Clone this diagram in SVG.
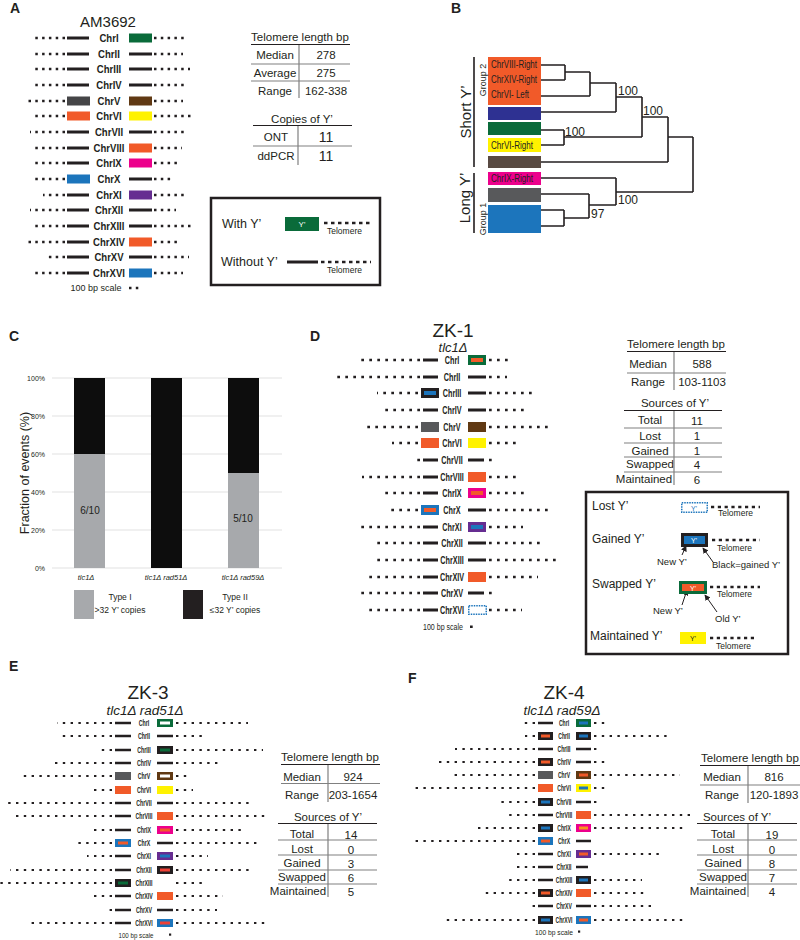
<svg xmlns="http://www.w3.org/2000/svg" width="800" height="940" viewBox="0 0 800 940">
<defs>
<style>
.t{font-family:"Liberation Sans",Arial,sans-serif;fill:#231f20}
.b{font-weight:bold}
.m{text-anchor:middle}
.i{font-style:italic}
.dA{fill:none;stroke:#231f20;stroke-width:2.5;stroke-dasharray:2.5 4.3}
.dD{fill:none;stroke:#231f20;stroke-width:2.5;stroke-dasharray:2.7 5.3}
.dE{fill:none;stroke:#231f20;stroke-width:2.2;stroke-dasharray:2.4 5.4}
.s3{fill:none;stroke:#231f20;stroke-width:3}
.s25{fill:none;stroke:#231f20;stroke-width:2.5}
.tl{fill:none;stroke:#231f20;stroke-width:1}
.tg{fill:none;stroke:#808080;stroke-width:1.2}
.tree{fill:none;stroke:#231f20;stroke-width:1.6}
.grid{stroke:#d9d9d9;stroke-width:0.8}
.frame{fill:none;stroke:#231f20;stroke-width:2.5}
.G{fill:#0a6b3a}.O{fill:#f15a29}.Y{fill:#fff200}.M{fill:#ec008c}.B{fill:#1c75bc}
.P{fill:#662d91}.N{fill:#603913}.K{fill:#58595b}.X{fill:#231f20}.R{fill:#ef4136}.W{fill:#ffffff}.L{fill:#f7941d}
</style>
<marker id="ah" viewBox="0 0 8 8" refX="7" refY="4" markerWidth="6" markerHeight="6" orient="auto" markerUnits="userSpaceOnUse">
<path d="M0,0 L8,4 L0,8 z" fill="#231f20"/>
</marker>
</defs>
<rect width="800" height="940" fill="#ffffff"/>

<!-- Panel A -->
<g id="panelA">
<text class="t b" x="10" y="13" font-size="14">A</text>
<text class="t m" x="108" y="27" font-size="15">AM3692</text>
<path class="dA" d="M65 38H32M65 54H32M65 69H32M65 85H32M65 101H28M65 116H33M65 132H30M65 148H31M65 163H35M65 179H33M65 195H43M65 210H30M65 226H35M65 242H28M65 257H47M65 273H35"/>
<path class="dA" d="M154 38H184M154 54H183M154 69H190M154 85H184M154 101H183M154 116H191M154 132H184M154 148H182M154 163H180M154 179H173M154 195H185M154 210H176M154 226H192M154 242H180M154 257H189M154 273H183"/>
<path class="s3" d="M67 38H89M67 54H89M67 69H89M67 85H89M67 132H89M67 148H89M67 163H89M67 195H89M67 210H89M67 226H89M67 242H89M67 257H89M67 273H89"/>
<path class="s3" d="M129 54H152M129 69H152M129 85H152M129 132H152M129 179H152M129 210H152M129 226H152M129 257H152"/>
<g>
<rect class="G" x="129" y="33.5" width="23" height="9"/>
<rect fill="#454547" x="67" y="96.5" width="23" height="9"/>
<rect class="N" x="129" y="96.5" width="23" height="9"/>
<rect class="O" x="67" y="111.5" width="23" height="9"/>
<rect class="Y" x="129" y="111.5" width="23" height="9"/>
<rect class="O" x="129" y="143.5" width="23" height="9"/>
<rect class="M" x="129" y="158.5" width="23" height="9"/>
<rect class="B" x="67" y="174.5" width="23" height="9"/>
<rect class="P" x="129" y="190.5" width="23" height="9"/>
<rect class="O" x="129" y="237.5" width="23" height="9"/>
<rect class="B" x="129" y="268.5" width="23" height="9"/>
</g>
<g class="t b m" font-size="11" transform="translate(109,0) scale(0.87,1)">
<text x="0" y="42">ChrI</text><text x="0" y="58">ChrII</text><text x="0" y="73">ChrIII</text><text x="0" y="89">ChrIV</text>
<text x="0" y="105">ChrV</text><text x="0" y="120">ChrVI</text><text x="0" y="136">ChrVII</text><text x="0" y="152">ChrVIII</text>
<text x="0" y="167">ChrIX</text><text x="0" y="183">ChrX</text><text x="0" y="199">ChrXI</text><text x="0" y="214">ChrXII</text>
<text x="0" y="230">ChrXIII</text><text x="0" y="246">ChrXIV</text><text x="0" y="261">ChrXV</text><text x="0" y="277">ChrXVI</text>
</g>
<text class="t m" x="96" y="291" font-size="9">100 bp scale</text>
<path class="dA" d="M129 288H140"/>
</g>

<!-- Panel A tables -->
<g id="tableA">
<g class="t m" font-size="11.5">
<text x="300" y="41">Telomere length bp</text>
<text x="275" y="59">Median</text><text x="326" y="59">278</text>
<text x="275" y="77">Average</text><text x="326" y="77">275</text>
<text x="275" y="95">Range</text><text x="326" y="95">162-338</text>
<text x="302" y="123">Copies of Y’</text>
<text x="276" y="141">ONT</text><text x="276" y="160">ddPCR</text>
</g>
<g class="t m" font-size="14"><text x="326" y="142">11</text><text x="326" y="161">11</text></g>
<path class="tl" d="M251 44.5H350M253 125.5H352"/>
<path class="tg" d="M251 64H350M251 81H350M299 45V98M253 146H352M298 126V165"/>
</g>

<!-- Panel A legend -->
<g id="legendA">
<rect class="frame" x="211" y="198" width="169" height="87"/>
<text class="t" x="222" y="228" font-size="12.5">With Y’</text>
<rect class="G" x="285" y="217" width="34" height="14"/>
<text class="t m" x="302" y="227" font-size="8" style="fill:#ffffff">Y’</text>
<path class="dA" d="M324 223H371" style="stroke-dasharray:3.5 3.5"/>
<text class="t" x="327" y="234" font-size="8.5">Telomere</text>
<text class="t" x="221" y="266" font-size="12.5">Without Y’</text>
<path class="s3" d="M287 262H318"/>
<path class="dA" d="M321 262H371" style="stroke-dasharray:3.5 3.5"/>
<text class="t" x="327" y="273" font-size="8.5">Telomere</text>
</g>

<!-- Panel B -->
<g id="panelB">
<text class="t b" x="451" y="13" font-size="14">B</text>
<rect class="O" x="488" y="57" width="53" height="48"/>
<rect fill="#2e3192" x="488" y="107" width="53" height="13"/>
<rect class="G" x="488" y="122" width="53" height="13"/>
<rect class="Y" x="488" y="138" width="53" height="14"/>
<rect fill="#594a42" x="488" y="156" width="53" height="12"/>
<rect class="M" x="488" y="172" width="53" height="13"/>
<rect class="K" x="488" y="188" width="53" height="14"/>
<rect class="B" x="488" y="205" width="53" height="28"/>
<g class="t" font-size="10">
<text x="491" y="68" textLength="46" lengthAdjust="spacingAndGlyphs">ChrVIII-Right</text>
<text x="491" y="83" textLength="46" lengthAdjust="spacingAndGlyphs">ChrXIV-Right</text>
<text x="491" y="98" textLength="38" lengthAdjust="spacingAndGlyphs">ChrVI- Left</text>
<text x="491" y="149" textLength="42" lengthAdjust="spacingAndGlyphs">ChrVI-Right</text>
<text x="491" y="182" textLength="42" lengthAdjust="spacingAndGlyphs">ChrIX-Right</text>
</g>
<g class="t" font-size="12">
<text x="618" y="95">100</text><text x="565" y="136">100</text><text x="643" y="115">100</text>
<text x="618" y="204">100</text><text x="591" y="218">97</text>
</g>
<path class="s25" d="M474 57V167M474 173V233" style="stroke-width:1.6"/>
<text class="t m" font-size="15" transform="translate(471,112) rotate(-90)">Short Y’</text>
<text class="t m" font-size="15" transform="translate(470,198) rotate(-90)">Long Y’</text>
<text class="t m" font-size="9" transform="translate(486,80) rotate(-90)">Group 2</text>
<text class="t m" font-size="9" transform="translate(486,219) rotate(-90)">Group 1</text>
</g>

<g id="connectors">
<path class="tree" d="M541 65H565M541 80H565M565 65V80M565 72H590M541 96H590M590 72V96M590 83H616M541 112H616M616 83V112M616 97H642M541 130H564M541 145H564M564 130V145M564 137H642M642 97V137M642 117H668M541 162H668M668 117V162M668 137H693M541 178H616M541 194H589M541 210H564M541 226H564M564 210V226M564 218H589M589 194V218M589 205H616M616 178V205M616 192H693M693 137V192"/>
<path class="tl" marker-end="url(#ah)" d="M682 555L686 546"/>
<path class="tl" marker-end="url(#ah)" d="M713 562L703 548"/>
<path class="tl" marker-end="url(#ah)" d="M682 605L687 590"/>
<path class="tl" marker-end="url(#ah)" d="M717 612L705 595"/>
</g>

<!-- Panel C -->
<g id="panelC">
<text class="t b" x="9" y="341" font-size="14">C</text>
<path class="grid" d="M52 378H282M52 416H282M52 454H282M52 492H282M52 530H282M52 568H282"/>
<g class="t" font-size="7" text-anchor="end">
<text x="45" y="380.5">100%</text><text x="45" y="418.5">80%</text><text x="45" y="456.5">60%</text>
<text x="45" y="494.5">40%</text><text x="45" y="532.5">20%</text><text x="45" y="570.5">0%</text>
</g>
<rect fill="#0d0d0d" x="74" y="378" width="31" height="76"/>
<rect fill="#a7a9ac" x="74" y="454" width="31" height="114"/>
<rect fill="#0d0d0d" x="151" y="378" width="31" height="190"/>
<rect fill="#0d0d0d" x="228" y="378" width="31" height="95"/>
<rect fill="#a7a9ac" x="228" y="473" width="31" height="95"/>
<text class="t m" x="90" y="514" font-size="10">6/10</text>
<text class="t m" x="243" y="522" font-size="10">5/10</text>
<text class="t m" font-size="12.5" transform="translate(29,473) rotate(-90)">Fraction of events (%)</text>
<g class="t m i" font-size="7.5">
<text x="86" y="580">tlc1Δ</text><text x="166" y="580">tlc1Δ rad51Δ</text><text x="243" y="580">tlc1Δ rad59Δ</text>
</g>
<rect fill="#a7a9ac" x="74" y="590" width="20" height="29"/>
<rect fill="#231f20" x="183" y="590" width="20" height="29"/>
<g class="t m" font-size="8.5">
<text x="120" y="600">Type I</text><text x="120" y="613">&gt;32 Y’ copies</text>
<text x="235" y="600">Type II</text><text x="235" y="613">≤32 Y’ copies</text>
</g>
</g>

<!-- Panel D -->
<g id="panelD">
<text class="t b" x="310" y="341" font-size="14">D</text>
<text class="t m" x="453" y="337" font-size="19">ZK-1</text>
<text class="t m i" x="453" y="351.5" font-size="13">tlc1Δ</text>
<path class="dD" d="M420 360H360M420 377H333M418 393H377M420 410H385M418 427H363M418 443H392M420 460H412M420 477H362M420 493H382M418 510H390M420 527H357M420 543H373M420 560H372M420 577H367M420 593H360M420 610H368"/>
<path class="dD" d="M489 360H513M489 377H507M489 393H533M489 410H528M489 427H549M489 443H519M489 460H495M489 477H518M489 493H524M489 510H552M489 527H523M489 543H543M489 560H560M489 577H538M489 593H497M489 610H522"/>
<path class="s3" d="M423 360H438M423 377H438M423 410H438M423 460H438M423 477H438M423 493H438M423 527H438M423 543H438M423 560H438M423 577H438M423 593H438M423 610H438"/>
<path class="s3" d="M468 377H486M468 393H486M468 410H486M468 460H484M468 510H486M468 543H486M468 560H486M468 593H484"/>
<g>
<rect class="G" x="468" y="355" width="18" height="10"/><rect class="O" x="471" y="358" width="12" height="4"/>
<rect class="X" x="421" y="388" width="18" height="10"/><rect class="B" x="424" y="391" width="12" height="4"/>
<rect class="K" x="421" y="422" width="18" height="10"/>
<rect class="N" x="468" y="422" width="18" height="10"/>
<rect class="O" x="421" y="438" width="18" height="10"/>
<rect class="Y" x="468" y="438" width="18" height="10"/>
<rect class="O" x="468" y="472" width="18" height="10"/>
<rect class="M" x="468" y="488" width="18" height="10"/><rect class="O" x="471" y="491" width="12" height="4"/>
<rect class="B" x="421" y="505" width="18" height="10"/><rect class="O" x="424" y="508" width="12" height="4"/>
<rect class="P" x="468" y="522" width="18" height="10"/><rect class="B" x="471" y="525" width="12" height="4"/>
<rect class="O" x="468" y="572" width="18" height="10"/>
<rect x="468.75" y="605.75" width="17.5" height="8.5" fill="none" stroke="#1c75bc" stroke-width="1.5" stroke-dasharray="1.5 1"/>
</g>
<g class="t b m" font-size="11" transform="translate(452,0) scale(0.66,1)">
<text x="0" y="364">ChrI</text><text x="0" y="381">ChrII</text><text x="0" y="397">ChrIII</text><text x="0" y="414">ChrIV</text>
<text x="0" y="431">ChrV</text><text x="0" y="447">ChrVI</text><text x="0" y="464">ChrVII</text><text x="0" y="481">ChrVIII</text>
<text x="0" y="497">ChrIX</text><text x="0" y="514">ChrX</text><text x="0" y="531">ChrXI</text><text x="0" y="547">ChrXII</text>
<text x="0" y="564">ChrXIII</text><text x="0" y="581">ChrXIV</text><text x="0" y="597">ChrXV</text><text x="0" y="614">ChrXVI</text>
</g>
<text class="t m" x="443" y="630" font-size="8.5" textLength="40" lengthAdjust="spacingAndGlyphs">100 bp scale</text>
<rect class="X" x="470" y="625.5" width="2.7" height="2.5"/>
</g>

<!-- Panel D tables -->
<g id="tableD">
<g class="t m" font-size="11.5">
<text x="676" y="348">Telomere length bp</text>
<text x="648" y="368">Median</text><text x="702" y="368">588</text>
<text x="648" y="386">Range</text><text x="702" y="386">103-1103</text>
<text x="675" y="407">Sources of Y’</text>
<text x="650" y="424">Total</text><text x="697" y="425">11</text>
<text x="650" y="440">Lost</text><text x="697" y="440">1</text>
<text x="650" y="455">Gained</text><text x="697" y="455">1</text>
<text x="650" y="468">Swapped</text><text x="697" y="469">4</text>
<text x="644" y="483">Maintained</text><text x="697" y="484">6</text>
</g>
<path class="tl" d="M627 351.5H726M624 410.5H722"/>
<path class="tg" d="M627 373H726M674 352V390M624 428H722M624 443H722M624 457H722M624 472H722M674 411V485"/>
</g>

<!-- Panel D legend -->
<g id="legendD">
<rect class="frame" x="586" y="492" width="202" height="162"/>
<g class="t" font-size="12">
<text x="592" y="510">Lost Y’</text>
<text x="592" y="543">Gained Y’</text>
<text x="592" y="588">Swapped Y’</text>
<text x="590" y="640">Maintained Y’</text>
</g>
<rect x="681.75" y="502.75" width="25.5" height="9.5" fill="none" stroke="#1c75bc" stroke-width="1.5" stroke-dasharray="1.5 1"/>
<text class="t m" x="694" y="511" font-size="7" style="fill:#1c75bc">Y’</text>
<rect class="X" x="681" y="533" width="27" height="14"/><rect class="B" x="684" y="536" width="21" height="8"/>
<text class="t m" x="694" y="543" font-size="7" style="fill:#ffffff">Y’</text>
<rect class="G" x="679" y="581" width="28" height="13"/><rect class="O" x="682" y="584" width="22" height="7"/>
<text class="t m" x="693" y="590.5" font-size="7" style="fill:#ffffff">Y’</text>
<rect class="Y" x="680" y="632" width="26" height="12"/>
<text class="t m" x="693" y="641" font-size="7">Y’</text>
<path class="dD" d="M711 507H760M712 540H760M710 587H760M710 638H757" style="stroke-dasharray:3.2 3.6"/>
<g class="t" font-size="8.5">
<text x="718" y="516">Telomere</text>
<text x="717" y="551">Telomere</text>
<text x="717" y="597">Telomere</text>
<text x="716" y="649">Telomere</text>
</g>
<g class="t" font-size="9.5">
<text x="657" y="565">New Y’</text>
<text x="712" y="568">Black=gained Y’</text>
<text x="653" y="614">New Y’</text>
<text x="715" y="622">Old Y’</text>
</g>
</g>

<!-- Panel E -->
<g id="panelE">
<text class="t b" x="9" y="671" font-size="14">E</text>
<text class="t m" x="148" y="699" font-size="19">ZK-3</text>
<text class="t m i" x="145" y="714.5" font-size="13.5">tlc1Δ rad51Δ</text>
<path class="dE" d="M112 723H57M112 736H58M112 750H100M112 763H52M112 776H22M112 790H93M112 803H8M112 816H15M112 830H94M112 843H74M112 856H87M112 870H10M112 883H0M112 896H93M112 910H105M112 923H28"/>
<path class="dE" d="M176 723H248M176 736H204M176 750H263M176 763H218M176 776H191M176 790H193M176 803H250M176 816H267M176 830H242M176 843H258M176 856H208M176 870H250M176 883H203M176 896H223M176 910H217M176 923H265"/>
<path class="s25" d="M115 723H131M115 736H131M115 750H131M115 763H131M115 803H131M115 816H131M115 830H131M115 856H131M115 870H131M115 896H131M115 910H131M115 923H131"/>
<path class="s25" d="M157 736H173M157 763H173M157 803H173M157 843H173M157 910H173"/>
<g>
<rect class="G" x="157" y="719" width="16" height="8"/><rect class="W" x="160" y="721.5" width="10" height="3"/>
<rect class="X" x="157" y="746" width="16" height="8"/><rect class="G" x="160" y="748.5" width="10" height="3"/>
<rect class="K" x="115" y="772" width="16" height="8"/>
<rect class="N" x="157" y="772" width="16" height="8"/><rect class="W" x="160" y="774.5" width="10" height="3"/>
<rect class="O" x="115" y="786" width="16" height="8"/>
<rect class="Y" x="157" y="786" width="16" height="8"/>
<rect class="O" x="157" y="812" width="16" height="8"/>
<rect class="M" x="157" y="826" width="16" height="8"/><rect class="O" x="160" y="828.5" width="10" height="3"/>
<rect class="B" x="115" y="839" width="16" height="8"/><rect class="O" x="118" y="841.5" width="10" height="3"/>
<rect class="P" x="157" y="852" width="16" height="8"/><rect class="B" x="160" y="854.5" width="10" height="3"/>
<rect class="X" x="157" y="866" width="16" height="8"/><rect class="R" x="160" y="868.5" width="10" height="3"/>
<rect class="X" x="115" y="879" width="16" height="8"/><rect class="G" x="118" y="881.5" width="10" height="3"/>
<rect class="O" x="157" y="892" width="16" height="8"/>
<rect class="B" x="157" y="919" width="16" height="8"/><rect class="R" x="160" y="921.5" width="10" height="3"/>
</g>
<g class="t b m" font-size="8.5" transform="translate(144,0) scale(0.62,1)">
<text x="0" y="726">ChrI</text><text x="0" y="739">ChrII</text><text x="0" y="753">ChrIII</text><text x="0" y="766">ChrIV</text>
<text x="0" y="779">ChrV</text><text x="0" y="793">ChrVI</text><text x="0" y="806">ChrVII</text><text x="0" y="819">ChrVIII</text>
<text x="0" y="833">ChrIX</text><text x="0" y="846">ChrX</text><text x="0" y="859">ChrXI</text><text x="0" y="873">ChrXII</text>
<text x="0" y="886">ChrXIII</text><text x="0" y="899">ChrXIV</text><text x="0" y="913">ChrXV</text><text x="0" y="926">ChrXVI</text>
</g>
<text class="t m" x="136" y="938" font-size="7.5" textLength="35" lengthAdjust="spacingAndGlyphs">100 bp scale</text>
<rect class="X" x="169" y="933.5" width="2.2" height="2.2"/>
</g>

<!-- Panel E tables -->
<g id="tableE">
<g class="t m" font-size="11.5">
<text x="330" y="761">Telomere length bp</text>
<text x="302" y="781">Median</text><text x="353" y="781">924</text>
<text x="302" y="799">Range</text><text x="353" y="799">203-1654</text>
<text x="328" y="821">Sources of Y’</text>
<text x="302" y="838">Total</text><text x="351" y="839">14</text>
<text x="302" y="853">Lost</text><text x="351" y="854">0</text>
<text x="302" y="867">Gained</text><text x="351" y="868">3</text>
<text x="302" y="881">Swapped</text><text x="351" y="882">6</text>
<text x="298" y="895">Maintained</text><text x="351" y="896">5</text>
</g>
<path class="tl" d="M281 764.5H380M278 823.5H377"/>
<path class="tg" d="M281 783.5H380M328 765V802M278 840H377M278 855H377M278 870H377M278 884H377M328 824V897"/>
</g>

<!-- Panel F -->
<g id="panelF">
<text class="t b" x="408" y="683" font-size="14">F</text>
<text class="t m" x="564" y="699" font-size="19">ZK-4</text>
<text class="t m i" x="562" y="714.5" font-size="13.5">tlc1Δ rad59Δ</text>
<path class="dE" d="M535 723H520M535 736H525M535 749H455M535 762H437M535 775H451M535 788H413M535 802H500M535 815H505M535 828H475M535 841H413M535 854H512M535 867H512M535 880H507M535 893H483M535 906H529M535 920H445"/>
<path class="dE" d="M594 723H609M594 736H668M594 749H601M594 762H608M594 775H680M594 788H609M594 802H599M594 815H695M594 828H685M594 854H663M594 880H642M594 893H648M594 906H653M594 920H685"/>
<path class="s25" d="M538 723H553M538 749H553M538 815H553M538 854H553M538 867H553M538 880H553M538 906H553"/>
<path class="s25" d="M576 749H591M576 762H591M576 802H591M576 841H591M576 867H588M576 906H591"/>
<g>
<rect class="G" x="576" y="719" width="15" height="8"/><rect class="B" x="579" y="721.5" width="9" height="3"/>
<rect class="X" x="538" y="732" width="15" height="8"/><rect class="O" x="541" y="734.5" width="9" height="3"/>
<rect class="X" x="576" y="732" width="15" height="8"/><rect class="B" x="579" y="734.5" width="9" height="3"/>
<rect class="X" x="538" y="758" width="15" height="8"/><rect class="O" x="541" y="760.5" width="9" height="3"/>
<rect class="K" x="538" y="771" width="15" height="8"/>
<rect class="N" x="576" y="771" width="15" height="8"/><rect class="O" x="579" y="773.5" width="9" height="3"/>
<rect class="O" x="538" y="784" width="15" height="8"/>
<rect class="Y" x="576" y="784" width="15" height="8"/><rect class="B" x="579" y="786.5" width="9" height="3"/>
<rect class="X" x="538" y="798" width="15" height="8"/><rect class="B" x="541" y="800.5" width="9" height="3"/>
<rect class="O" x="576" y="811" width="15" height="8"/>
<rect class="X" x="538" y="824" width="15" height="8"/><rect class="B" x="541" y="826.5" width="9" height="3"/>
<rect class="M" x="576" y="824" width="15" height="8"/><rect class="L" x="579" y="826.5" width="9" height="3"/>
<rect class="B" x="538" y="837" width="15" height="8"/><rect class="O" x="541" y="839.5" width="9" height="3"/>
<rect class="P" x="576" y="850" width="15" height="8"/><rect class="O" x="579" y="852.5" width="9" height="3"/>
<rect class="X" x="576" y="876" width="15" height="8"/><rect class="B" x="579" y="878.5" width="9" height="3"/>
<rect class="X" x="538" y="889" width="15" height="8"/><rect class="O" x="541" y="891.5" width="9" height="3"/>
<rect class="O" x="576" y="889" width="15" height="8"/>
<rect class="X" x="538" y="916" width="15" height="8"/><rect class="B" x="541" y="918.5" width="9" height="3"/>
<rect class="B" x="576" y="916" width="15" height="8"/><rect class="O" x="579" y="918.5" width="9" height="3"/>
</g>
<g class="t b m" font-size="8.5" transform="translate(564,0) scale(0.6,1)">
<text x="0" y="726">ChrI</text><text x="0" y="739">ChrII</text><text x="0" y="752">ChrIII</text><text x="0" y="765">ChrIV</text>
<text x="0" y="778">ChrV</text><text x="0" y="791">ChrVI</text><text x="0" y="805">ChrVII</text><text x="0" y="818">ChrVIII</text>
<text x="0" y="831">ChrIX</text><text x="0" y="844">ChrX</text><text x="0" y="857">ChrXI</text><text x="0" y="870">ChrXII</text>
<text x="0" y="883">ChrXIII</text><text x="0" y="896">ChrXIV</text><text x="0" y="909">ChrXV</text><text x="0" y="923">ChrXVI</text>
</g>
<text class="t m" x="554" y="935" font-size="7.5" textLength="38" lengthAdjust="spacingAndGlyphs">100 bp scale</text>
<rect class="X" x="578" y="930.5" width="2.2" height="2.2"/>
</g>

<!-- Panel F tables -->
<g id="tableF">
<g class="t m" font-size="11.5">
<text x="750" y="762">Telomere length bp</text>
<text x="722" y="781">Median</text><text x="774" y="781">816</text>
<text x="722" y="799">Range</text><text x="774" y="799">120-1893</text>
<text x="737" y="821">Sources of Y’</text>
<text x="723" y="838">Total</text><text x="772" y="839">19</text>
<text x="723" y="853">Lost</text><text x="772" y="854">0</text>
<text x="723" y="867">Gained</text><text x="772" y="868">8</text>
<text x="723" y="881">Swapped</text><text x="772" y="882">7</text>
<text x="718" y="895">Maintained</text><text x="772" y="896">4</text>
</g>
<path class="tl" d="M700 765.5H800M697 823.5H797"/>
<path class="tg" d="M700 785H800M748 766V803M697 840H797M697 855H797M697 870H797M697 884H797M748 824V897"/>
</g>
</svg>
